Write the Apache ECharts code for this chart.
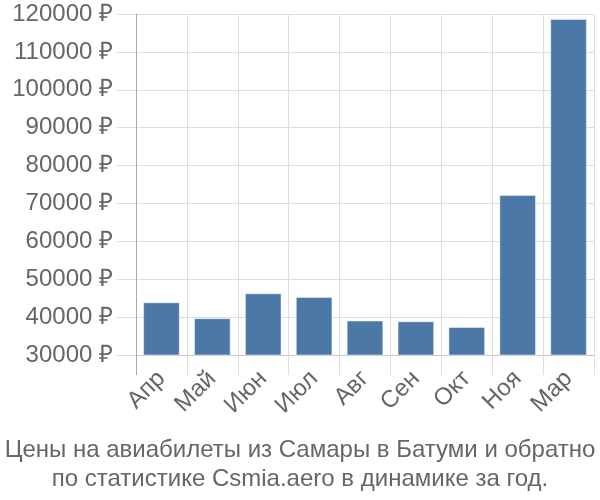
<!DOCTYPE html>
<html><head><meta charset="utf-8">
<script src="https://cdn.jsdelivr.net/npm/echarts@6/dist/echarts.min.js"></script>
<style>html,body{margin:0;padding:0;background:#fff}#c{width:600px;height:500px}</style>
</head><body><div id="c"></div>
<script>
var months = ['Апр','Май','Июн','Июл','Авг','Сен','Окт','Ноя','Мар'];
var prices = [43900, 39700, 46300, 45300, 39100, 38900, 37400, 72200, 118700];
var yMin = 30000, yMax = 120000, yStep = 10000;
var titleLines = ['Цены на авиабилеты из Самары в Батуми и обратно', 'по статистике Csmia.aero в динамике за год.'];

var font = '"Liberation Sans", Arial, sans-serif';
var chart = echarts.init(document.getElementById('c'));
chart.setOption({
  animation: false,
  textStyle: {fontFamily: font},
  title: {
    text: titleLines.join('\n'), left: 'center', top: 431,
    textStyle: {fontFamily: font, fontSize: 24, fontWeight: 'normal', color: '#666', lineHeight: 29}
  },
  grid: {left: 136, right: 6, top: 14, bottom: 145, containLabel: false},
  xAxis: {
    type: 'category', data: months,
    axisLine: {lineStyle: {color: '#c8c8c8', width: 1}},
    axisTick: {show: true, length: 20, interval: 0, lineStyle: {color: '#ddd'}},
    splitLine: {show: true, interval: 0, lineStyle: {color: '#ddd'}},
    axisLabel: {rotate: 45, fontSize: 24, color: '#666', margin: 20, interval: 0, fontFamily: font}
  },
  yAxis: {
    type: 'value', min: yMin, max: yMax, interval: yStep,
    axisLine: {show: true, lineStyle: {color: '#aaa'}},
    axisTick: {show: true, length: 19, lineStyle: {color: '#ddd'}},
    splitLine: {show: true, lineStyle: {color: '#ddd'}},
    axisLabel: {fontSize: 24, color: '#666', margin: 23, fontFamily: font,
      formatter: function (v) { return v + ' ₽'; }}
  },
  series: [{
    type: 'bar', data: prices, barCategoryGap: '28%',
    itemStyle: {color: '#4c78a8', borderColor: 'rgba(255,255,255,0.45)', borderWidth: 1}
  }]
});
var p0 = chart.convertToPixel({gridIndex: 0}, [0, yMin]);
var p1 = chart.convertToPixel({gridIndex: 0}, [0, yMax]);
var gx = chart.getModel().getComponent('grid').coordinateSystem.getRect().x;
chart.setOption({graphic: [{type: 'line', silent: true, z: 10,
  shape: {x1: gx + 0.5, y1: p1[1] + 1, x2: gx + 0.5, y2: p0[1] + 20},
  style: {stroke: '#aaa', lineWidth: 1}}]});
</script></body></html>
